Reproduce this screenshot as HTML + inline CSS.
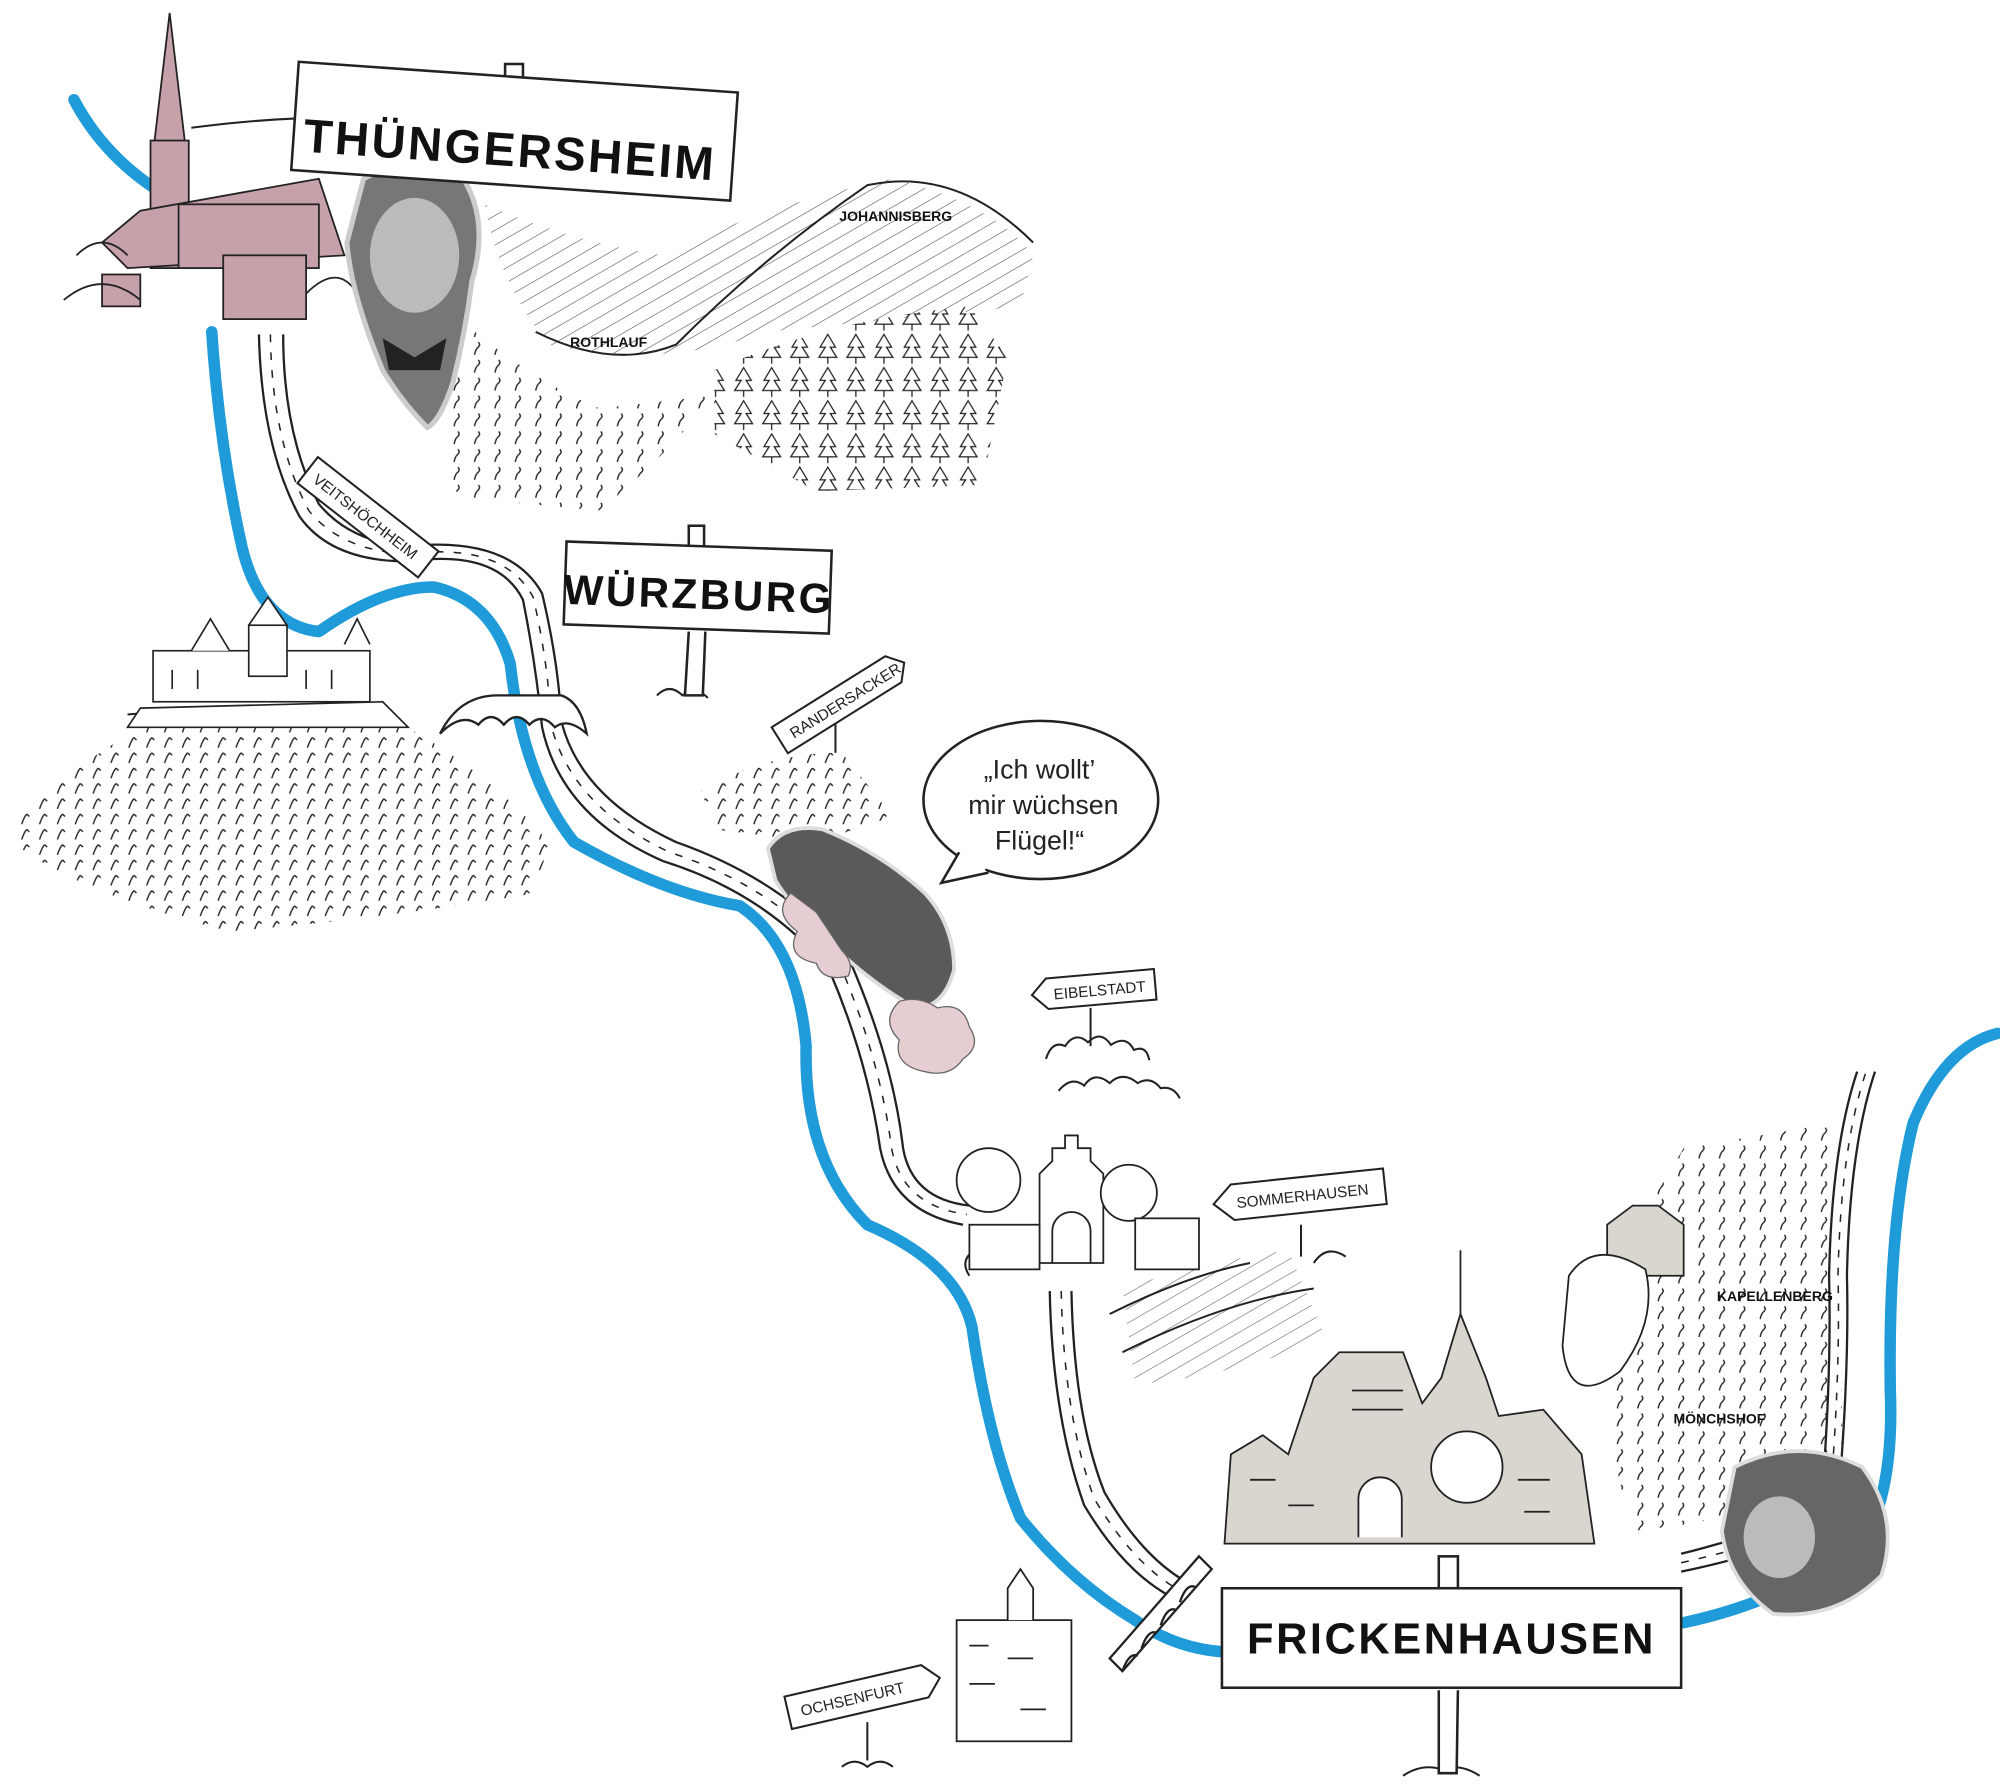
<!DOCTYPE html>
<html><head><meta charset="utf-8"><style>
html,body{margin:0;padding:0;background:#fff;}
svg{display:block;}
text{font-family:"Liberation Sans",sans-serif;}
.big{font-weight:bold;letter-spacing:2px;}
</style></head><body>
<svg width="2000" height="1790" viewBox="0 0 1568 1403" xmlns="http://www.w3.org/2000/svg">
<defs>
<pattern id="vine" width="14" height="12" patternUnits="userSpaceOnUse">
<path d="M3 10 q2 -6 4 -8 M7 2 l2 2" stroke="#222" stroke-width="1.1" fill="none"/>
</pattern>
<pattern id="vine2" width="16" height="14" patternUnits="userSpaceOnUse">
<path d="M4 12 q1 -5 3 -6 q2 -2 0 -4" stroke="#222" stroke-width="1.1" fill="none"/>
</pattern>
<pattern id="hatch" width="10" height="10" patternUnits="userSpaceOnUse" patternTransform="rotate(60)">
<line x1="0" y1="0" x2="0" y2="10" stroke="#222" stroke-width="0.9"/>
</pattern>
<pattern id="tree" width="22" height="26" patternUnits="userSpaceOnUse">
<path d="M11 2 l-6 10 h4 l-5 8 h14 l-5 -8 h4z M11 20 v5" stroke="#222" stroke-width="1" fill="#fff"/>
</pattern>
</defs>

<!-- vineyard areas -->
<path d="M10 640 Q60 600 110 570 L300 560 Q380 600 430 660 L420 700 Q300 720 180 730 Q60 700 10 660Z" fill="url(#vine)"/>
<path d="M360 250 Q420 300 470 320 L560 310 Q520 360 470 400 L360 390 Q330 330 360 250Z" fill="url(#vine2)"/>
<path d="M560 290 Q650 250 760 240 L790 280 L770 380 L640 385 L560 340Z" fill="url(#tree)"/>
<path d="M380 160 Q450 190 520 200 Q600 160 700 140 Q780 160 810 200 L800 240 Q700 250 600 260 Q520 290 430 270 Q390 220 380 160Z" fill="url(#hatch)" opacity="0.8"/>
<path d="M1320 900 Q1380 890 1440 880 L1445 1160 Q1380 1190 1280 1200 Q1250 1100 1260 1000Z" fill="url(#vine2)"/>
<path d="M550 620 Q600 590 660 590 L700 640 L640 660 L560 650Z" fill="url(#vine)"/>
<path d="M880 1010 Q940 990 1010 980 L1040 1050 Q960 1080 890 1085Z" fill="url(#hatch)" opacity="0.7"/>

<!-- hill outlines & bushes -->
<g stroke="#222" stroke-width="1.6" fill="none">
<path d="M150 100 Q300 80 420 110 Q500 140 560 150"/>
<path d="M420 260 Q480 290 530 270 Q600 200 680 145 Q750 130 810 190"/>
<path d="M820 830 q5 -15 15 -10 q8 -12 18 -3 q10 -10 18 2 q12 -8 18 4 q10 -4 12 8"/>
<path d="M830 855 q10 -12 20 -4 q8 -12 20 -2 q10 -10 22 0 q10 -6 18 4 q10 -2 15 8"/>
<path d="M760 1000 q-8 -12 4 -20 M1030 990 q10 -15 25 -5"/>
<path d="M870 1030 Q930 1000 980 990 M880 1060 Q960 1020 1030 1010"/>
<path d="M100 560 Q200 550 300 560"/>
<path d="M515 545 q10 -10 20 0 q10 -8 20 2"/>
<path d="M1100 1392 q15 -10 30 -5 q15 -5 30 5"/>
<path d="M660 1385 q10 -8 20 0 q10 -8 20 0"/>
</g>

<!-- river -->
<g stroke="#1e9bd8" stroke-width="9" fill="none" stroke-linecap="round" stroke-linejoin="round">
<path d="M58 78 Q80 120 122 148"/>
<path d="M166 260 Q172 350 190 430 Q205 490 250 495 Q300 460 340 460 Q385 470 400 520 Q410 610 450 660 Q520 700 580 710 Q625 740 632 820 Q630 910 680 960 Q750 990 762 1040 Q775 1130 800 1190 Q840 1240 890 1270 Q920 1292 960 1295"/>
<path d="M1320 1272 Q1400 1255 1460 1210 Q1485 1170 1482 1090 Q1480 960 1500 880 Q1525 820 1566 810"/>
</g>

<!-- roads -->
<g stroke="#222" stroke-width="1.8" fill="none">
<path d="M203 262 Q205 350 235 405 Q260 440 320 440 Q390 430 410 470 Q420 520 425 570 Q440 640 520 675 Q600 700 650 760 Q680 830 690 900 Q700 950 755 960"/>
<path d="M222 262 Q222 340 250 395 Q275 425 320 428 Q400 420 425 465 Q438 520 440 565 Q455 625 530 660 Q615 690 665 750 Q700 830 708 900 Q715 940 760 945"/>
<path d="M823 1012 Q825 1110 850 1180 Q880 1230 915 1250"/>
<path d="M840 1012 Q842 1110 866 1170 Q895 1220 930 1240"/>
<path d="M1318 1232 Q1400 1215 1440 1190 Q1450 1080 1448 1000 Q1450 900 1470 840"/>
<path d="M1318 1218 Q1390 1200 1428 1178 Q1436 1080 1434 1000 Q1436 900 1456 840"/>
</g>
<g stroke="#222" stroke-width="1.2" fill="none" stroke-dasharray="6 8">
<path d="M212 262 Q213 345 242 400 Q268 432 320 434 Q395 425 418 468 Q430 520 432 568 Q448 632 525 668 Q608 695 658 755 Q690 830 699 900 Q707 945 758 952"/>
<path d="M832 1012 Q834 1110 858 1175 Q888 1225 922 1245"/>
<path d="M1318 1225 Q1395 1208 1434 1184 Q1443 1080 1441 1000 Q1443 900 1463 840"/>
</g>

<!-- bridges -->
<g stroke="#222" stroke-width="1.8" fill="#fff">
<path d="M345 575 Q360 545 390 545 L440 545 Q455 550 460 575 Q445 562 435 570 Q425 558 415 568 Q405 556 395 568 Q385 556 375 568 Q362 558 345 575Z"/>
<path d="M870 1300 L940 1220 L950 1230 L880 1310Z"/>
<path d="M880 1310 q5 -15 12 -12 M895 1292 q5 -15 12 -12 M910 1274 q5 -15 12 -12 M925 1256 q5 -15 12 -12" fill="none"/>
</g>

<!-- Thüngersheim church -->
<g stroke="#222" stroke-width="1.4">
<path d="M120 120 L133 10 L146 120Z" fill="#c7a1aa"/>
<rect x="118" y="110" width="30" height="100" fill="#c7a1aa"/>
<path d="M80 190 L110 165 L250 140 L270 200 L100 210Z" fill="#c7a1aa"/>
<rect x="140" y="160" width="110" height="50" fill="#c7a1aa"/>
<rect x="175" y="200" width="65" height="50" fill="#c7a1aa"/>
<rect x="80" y="215" width="30" height="25" fill="#c7a1aa"/>
<path d="M60 200 q20 -20 40 0 M50 235 q30 -25 60 0 M240 230 q25 -25 40 0" fill="none"/>
</g>

<!-- Würzburg fortress -->
<g stroke="#222" stroke-width="1.3" fill="#fff">
<rect x="120" y="510" width="170" height="40"/>
<path d="M150 510 l15 -25 l15 25 M195 490 l15 -22 l15 22 M270 505 l10 -20 l10 20"/>
<rect x="195" y="490" width="30" height="40"/>
<path d="M110 555 L300 550 L320 570 L100 570Z"/>
<path d="M135 525 v15 M155 525 v15 M240 525 v15 M260 525 v15" fill="none"/>
</g>

<!-- Sommerhausen gate & trees -->
<g stroke="#222" stroke-width="1.4" fill="#fff">
<path d="M815 920 l10 -10 v-10 l10 0 v-10 l10 0 v10 h10 v10 l10 10 v70 h-50Z"/>
<path d="M825 990 v-25 a15 15 0 0 1 30 0 v25" fill="none"/>
<circle cx="775" cy="925" r="25"/><circle cx="885" cy="935" r="22"/>
<rect x="760" y="960" width="55" height="35"/><rect x="890" y="955" width="50" height="40"/>
</g>

<!-- Frickenhausen town -->
<g stroke="#222" stroke-width="1.4" fill="#d9d6cf">
<path d="M960 1210 L965 1140 L990 1125 L1010 1140 L1030 1080 L1050 1060 L1100 1060 L1115 1100 L1130 1080 L1145 1030 L1165 1080 L1175 1110 L1210 1105 L1240 1140 L1250 1210Z"/>
<path d="M1145 1030 l0 -50" fill="none"/>
<path d="M1065 1205 v-30 a17 17 0 0 1 34 0 v30" fill="#fff"/>
<circle cx="1150" cy="1150" r="28" fill="#fff"/>
<path d="M1260 960 l20 -15 l20 0 l20 15 v40 h-60Z" fill="#d9d6cf"/>
<path d="M1230 1000 q20 -30 60 -5 q10 40 -20 80 q-40 30 -45 -20z" fill="#fff"/>
<path d="M980 1160 h20 M1010 1180 h20 M1190 1160 h25 M1195 1185 h20 M1060 1090 h40 M1060 1105 h40" fill="none"/>
</g>

<!-- Ochsenfurt building -->
<g stroke="#222" stroke-width="1.4" fill="#fff">
<rect x="750" y="1270" width="90" height="95"/>
<path d="M790 1270 v-25 l10 -15 l10 15 v25"/>
<path d="M760 1290 h15 M790 1300 h20 M760 1320 h20 M800 1340 h20" fill="none"/>
</g>

<!-- photos -->
<path d="M285 140 Q320 120 360 135 Q385 170 370 220 Q365 260 355 300 Q345 330 335 335 Q315 315 300 290 Q275 230 272 190Z" fill="#777" stroke="#ccc" stroke-width="4"/>
<ellipse cx="325" cy="200" rx="35" ry="45" fill="#bbb"/>
<path d="M300 265 l25 15 l25 -15 l-5 25 h-40z" fill="#222"/>
<!-- car -->
<path d="M602 665 Q615 645 645 650 Q690 668 725 700 Q748 725 748 760 Q740 790 718 790 Q690 775 660 748 Q625 718 608 690Z" fill="#5a5a5a" stroke="#ddd" stroke-width="3"/>
<path d="M620 700 q-15 15 5 30 q-10 20 15 25 q5 15 25 10 q5 -10 -5 -20 q-10 -15 -20 -30z" fill="#e6cdd2" stroke="#666" stroke-width="1"/>
<path d="M705 785 q-15 15 0 30 q-5 20 20 25 q20 5 30 -10 q15 -10 5 -25 q-5 -20 -25 -15 q-15 -10 -30 -5z" fill="#e6cdd2" stroke="#666" stroke-width="1"/>
<!-- woman -->
<path d="M1360 1150 Q1410 1125 1460 1150 Q1490 1190 1475 1235 Q1440 1270 1390 1265 Q1355 1240 1350 1200Z" fill="#666" stroke="#ddd" stroke-width="3"/>
<ellipse cx="1395" cy="1205" rx="28" ry="32" fill="#bbb"/>

<!-- speech bubble -->
<ellipse cx="816" cy="627" rx="92" ry="62" fill="#fff" stroke="#222" stroke-width="2"/>
<path d="M752 668 L738 692 L775 684" fill="#fff" stroke="#222" stroke-width="2"/>
<path d="M754 670 L772 682" stroke="#fff" stroke-width="4"/>
<text x="815" y="610" font-size="21" text-anchor="middle" fill="#222">„Ich wollt’</text>
<text x="818" y="638" font-size="21" text-anchor="middle" fill="#222">mir wüchsen</text>
<text x="815" y="666" font-size="21" text-anchor="middle" fill="#222">Flügel!“</text>

<!-- big signs -->
<g stroke="#222" stroke-width="2" fill="#fff">
<rect x="396" y="50" width="14" height="25"/>
<g transform="rotate(4 400 115)"><rect x="230" y="60" width="345" height="85"/></g>
<text x="400" y="130" transform="rotate(4 400 115)" font-size="37" class="big" text-anchor="middle" fill="#111" stroke="none">THÜNGERSHEIM</text>
<rect x="540" y="412" width="12" height="20"/>
<path d="M540 495 l-3 50 h14 l2 -50"/>
<g transform="rotate(2 548 460)"><rect x="443" y="428" width="208" height="65"/></g>
<text x="548" y="477" transform="rotate(2 548 460)" font-size="33" class="big" text-anchor="middle" fill="#111" stroke="none">WÜRZBURG</text>
<rect x="1128" y="1220" width="15" height="25"/>
<path d="M1128 1325 l0 65 h14 l1 -65"/>
<rect x="958" y="1245" width="360" height="78"/>
<text x="1138" y="1296" font-size="34" class="big" text-anchor="middle" fill="#111" stroke="none">FRICKENHAUSEN</text>
</g>

<!-- small signs -->
<g stroke="#222" stroke-width="1.6" fill="#fff" font-size="12">
<g transform="translate(240 370) rotate(38)"><rect x="0" y="-15" width="120" height="26"/><text x="8" y="3" stroke="none" fill="#222">VEITSHÖCHHEIM</text></g>
<path d="M655 565 v25" fill="none"/>
<g transform="translate(605 570) rotate(-32)"><path d="M0 0 h105 l10 12 l-10 12 h-105z"/><text x="10" y="17" stroke="none" fill="#222">RANDERSACKER</text></g>
<path d="M855 790 v30" fill="none"/>
<g transform="translate(808 768) rotate(-5)"><path d="M12 0 h85 v24 h-85 l-12 -12z"/><text x="17" y="17" stroke="none" fill="#222">EIBELSTADT</text></g>
<path d="M1020 960 v25" fill="none"/>
<g transform="translate(950 930) rotate(-6)"><path d="M15 0 h120 v28 h-120 l-15 -14z"/><text x="18" y="19" stroke="none" fill="#222">SOMMERHAUSEN</text></g>
<path d="M680 1350 v30" fill="none"/>
<g transform="translate(615 1330) rotate(-13)"><path d="M0 0 h110 l12 13 l-12 13 h-110z"/><text x="10" y="18" stroke="none" fill="#222">OCHSENFURT</text></g>
</g>

<!-- hill labels -->
<g font-size="11" font-weight="bold" fill="#111">
<text x="658" y="173">JOHANNISBERG</text>
<text x="447" y="272">ROTHLAUF</text>
<text x="1346" y="1020">KAPELLENBERG</text>
<text x="1312" y="1116">MÖNCHSHOF</text>
</g>
</svg>
</body></html>
